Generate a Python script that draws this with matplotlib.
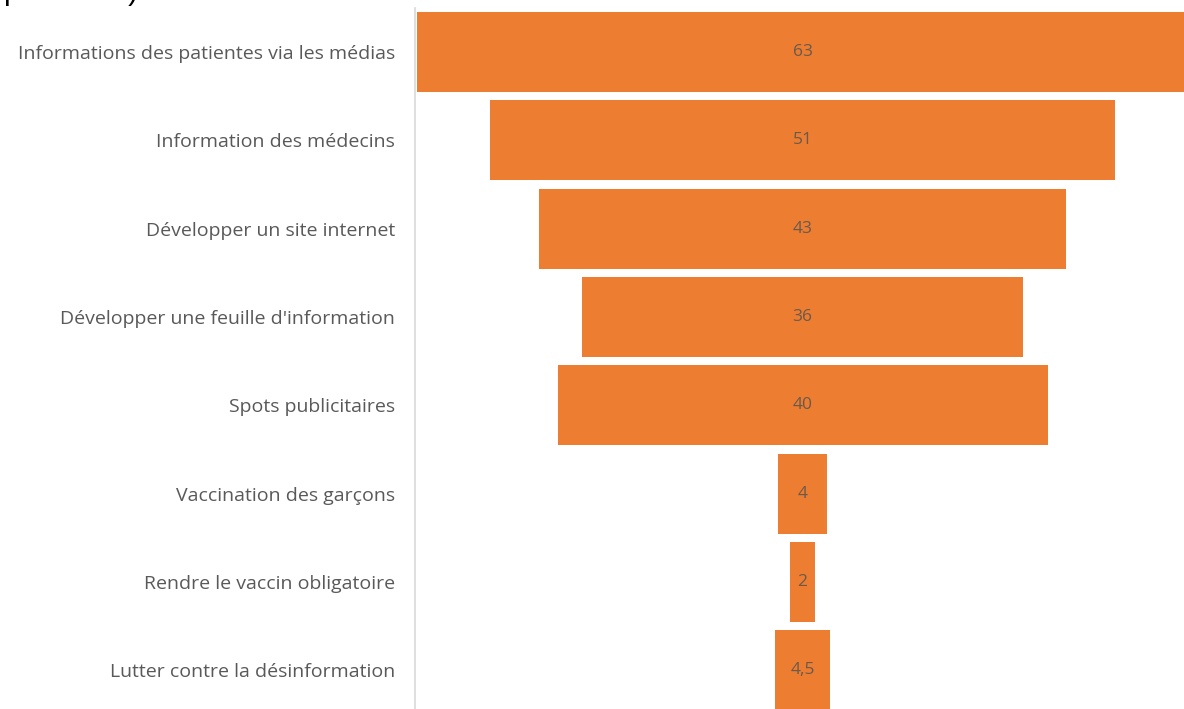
import matplotlib.pyplot as plt
import numpy as np

# données
categories = [
    "Informations des patientes via les médias",
    "Information des médecins",
    "Développer un site internet",
    "Développer une feuille d'information",
    "Spots publicitaires",
    "Vaccination des garçons",
    "Rendre le vaccin obligatoire",
    "Lutter contre la désinformation",
]
values = [63, 51, 43, 36, 40, 4, 2, 4.5]
value_labels = ["63", "51", "43", "36", "40", "4", "2", "4,5"]

W, H = 1184, 709
fig = plt.figure(figsize=(W / 100, H / 100), dpi=100)

# axes placé en pixels : ligne d'axe à x=415, première bande à y=8, pas de 88.3 px
pitch = 88.3
top = 8
ax_h = pitch * len(categories)
ax = fig.add_axes([415 / W, 1 - (top + ax_h) / H, 1 - 415 / W, ax_h / H])

scale = 12.25  # px par unité
x_left = (415 - 802.5) / scale
x_right = (W - 802.5) / scale

y = np.arange(len(categories))
v = np.array(values)
ax.barh(y, v, left=-v / 2, height=0.905, color="#ED7D31")

for yi, vi, lab in zip(y, values, value_labels):
    ax.text(0, yi, lab, ha="center", va="center", fontsize=12.5,
            color="#6a5a4c", family="Open Sans")

ax.set_xlim(x_left, x_right)
ax.set_ylim(len(categories) - 0.5, -0.5)
ax.set_yticks(y)
ax.set_yticklabels(categories, fontsize=14, color="#595959", family="Open Sans")
ax.tick_params(axis="y", length=0, pad=14.5)
ax.set_xticks([])
for s in ["top", "right", "bottom"]:
    ax.spines[s].set_visible(False)
ax.spines["left"].set_color("#d9d9d9")
ax.spines["left"].set_linewidth(1.2)

# titre coupé en haut de l'image
fig.text(3 / W, 1.0, "possibles)", va="baseline", ha="left",
         fontsize=21.6, color="black", family="Liberation Sans")

fig.savefig("out.png", dpi=100)
